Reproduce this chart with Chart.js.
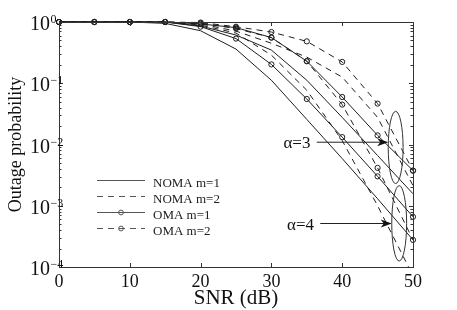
<!DOCTYPE html>
<html><head><meta charset="utf-8">
<script src="https://cdn.jsdelivr.net/npm/chart.js@4/dist/chart.umd.min.js"></script>
<style>html,body{margin:0;padding:0;background:#fff}canvas{display:block}</style>
</head><body>
<canvas id="c" width="457" height="310"></canvas>
<script>
// ---- data (SNR in dB, outage probability) ----
const snr      = [0, 5, 10, 15, 20, 25, 30, 35, 40, 45, 50];
const nomaM1a3 = [1, 1, 1, 1, 0.86, 0.612, 0.348, 0.112, 0.0277, 0.0066, 0.00157];
const nomaM2a3 = [1, 1, 1, 1, 0.93, 0.71, 0.45, 0.267, 0.126, 0.0277, 0.00213];
const omaM1a3  = [1, 1, 1, 1, 0.93, 0.81, 0.557, 0.229, 0.0596, 0.0141, 0.00375];
const omaM2a3  = [1, 1, 1, 1, 0.98, 0.837, 0.686, 0.483, 0.223, 0.0465, 0.00375];
const nomaM1a4 = [1, 1, 1, 0.95, 0.72, 0.361, 0.112, 0.0257, 0.0059, 0.0013, 0.000277];
const nomaM2a4 = [1, 1, 1, 1, 0.89, 0.66, 0.288, 0.0768, 0.0116, 0.001, 0.000072];
const omaM1a4  = [1, 1, 1, 1, 0.84, 0.536, 0.203, 0.0553, 0.0132, 0.00302, 0.00066];
const omaM2a4  = [1, 1, 1, 1, 0.96, 0.78, 0.557, 0.229, 0.0448, 0.00415, 0.000277];
const xTickLabels = [0, 10, 20, 30, 40, 50];
const yDecades = [0, -1, -2, -3, -4];
const legendLabels = ['NOMA m=1', 'NOMA m=2', 'OMA m=1', 'OMA m=2'];
const alphaLabels = ['\u03B1=3', '\u03B1=4'];

const serif = '"Liberation Serif", "Times New Roman", serif';
const ink = '#1e1e1e';
const DASH = [6, 5];

function ds(label, data, dashed, marker) {
  return {
    label, data: snr.map((x, i) => ({x, y: data[i]})),
    borderColor: ink, borderWidth: 1, borderDash: dashed ? DASH : [],
    pointRadius: marker ? 2.6 : 0, pointHoverRadius: 0, pointStyle: 'circle',
    pointBorderColor: ink, pointBackgroundColor: 'rgba(0,0,0,0)', pointBorderWidth: 1,
    tension: 0, fill: false, clip: {left: 6, top: 6, right: 6, bottom: 0}
  };
}

const deco = {
  id: 'deco',
  afterDraw(chart) {
    const {ctx, chartArea: a, scales: {x, y}} = chart;
    ctx.save();
    ctx.setLineDash([]);
    // frame
    ctx.strokeStyle = '#333'; ctx.lineWidth = 1;
    ctx.strokeRect(a.left + 0.5, a.top + 0.5, a.right - a.left, a.bottom - a.top);
    // x ticks (inward, bottom & top)
    ctx.beginPath();
    xTickLabels.forEach(v => {
      const px = Math.round(x.getPixelForValue(v)) + 0.5;
      ctx.moveTo(px, a.bottom); ctx.lineTo(px, a.bottom - 4);
      ctx.moveTo(px, a.top); ctx.lineTo(px, a.top + 4);
    });
    // y ticks (major + minor, left & right)
    yDecades.forEach(e => {
      for (let m = 1; m <= 9; m++) {
        const v = m * Math.pow(10, e);
        if (v > 1.0000001 || v < 0.9999e-4) continue;
        const py = Math.round(y.getPixelForValue(v)) + 0.5;
        const L = m === 1 ? 4 : 2.5;
        ctx.moveTo(a.left, py); ctx.lineTo(a.left + L, py);
        ctx.moveTo(a.right, py); ctx.lineTo(a.right - L, py);
      }
    });
    ctx.stroke();

    ctx.fillStyle = '#111';
    // x tick labels
    ctx.font = '18px ' + serif; ctx.textAlign = 'center'; ctx.textBaseline = 'alphabetic';
    xTickLabels.forEach(v => ctx.fillText(String(v), x.getPixelForValue(v), a.bottom + 20));
    // y tick labels 10^e
    yDecades.forEach(e => {
      const py = y.getPixelForValue(Math.pow(10, e));
      ctx.font = '20px ' + serif; ctx.textAlign = 'right';
      ctx.fillText('10', a.left - 9, py + 8);
      ctx.font = '12px ' + serif; ctx.textAlign = 'left';
      ctx.fillText(e === 0 ? '0' : '\u2212' + (-e), a.left - 8.5, py + 1);
    });
    // axis titles
    ctx.font = '21px ' + serif; ctx.textAlign = 'center';
    ctx.fillText('SNR (dB)', (a.left + a.right) / 2, a.bottom + 37);
    ctx.save();
    ctx.translate(21, (a.top + a.bottom) / 2);
    ctx.rotate(-Math.PI / 2);
    ctx.font = '18px ' + serif;
    ctx.fillText('Outage probability', 0, 0);
    ctx.restore();

    // legend
    const rows = [182, 198, 214, 230];
    const styles = [[false, false], [true, false], [false, true], [true, true]];
    legendLabels.forEach((t, i) => {
      const [dashed, marker] = styles[i];
      const ly = rows[i] - 1.5;
      ctx.strokeStyle = '#555'; ctx.lineWidth = 1;
      ctx.setLineDash(dashed ? DASH : []);
      ctx.beginPath(); ctx.moveTo(97, ly); ctx.lineTo(145, ly); ctx.stroke();
      ctx.setLineDash([]);
      if (marker) { ctx.beginPath(); ctx.arc(121, ly, 2.4, 0, 2 * Math.PI); ctx.stroke(); }
      ctx.fillStyle = '#222'; ctx.font = '13px ' + serif; ctx.textAlign = 'left';
      ctx.fillText(t, 153, rows[i] + 4.5);
    });

    // annotations (data coordinates)
    const notes = [
      {text: alphaLabels[0], tx: 31.7, ax0: 36.4, ax1: 46.5, ay: 0.0109, ex0: 46.5, ex1: 48.6, ey0: 0.0348, ey1: 0.0023},
      {text: alphaLabels[1], tx: 32.2, ax0: 36.9, ax1: 47.0, ay: 0.000513, ex0: 47.0, ex1: 49.1, ey0: 0.00213, ey1: 0.000125}
    ];
    notes.forEach(n => {
      const ay = y.getPixelForValue(n.ay);
      const x0 = x.getPixelForValue(n.ax0), x1 = x.getPixelForValue(n.ax1);
      ctx.fillStyle = '#111'; ctx.font = '17px ' + serif; ctx.textAlign = 'left';
      ctx.fillText(n.text, x.getPixelForValue(n.tx), ay + 6);
      ctx.strokeStyle = '#222'; ctx.lineWidth = 1;
      ctx.beginPath(); ctx.moveTo(x0, ay); ctx.lineTo(x1 - 6, ay); ctx.stroke();
      ctx.beginPath();
      ctx.moveTo(x1, ay); ctx.lineTo(x1 - 11, ay - 4); ctx.lineTo(x1 - 8, ay); ctx.lineTo(x1 - 11, ay + 4);
      ctx.closePath(); ctx.fillStyle = '#111'; ctx.fill();
      const ex0 = x.getPixelForValue(n.ex0), ex1 = x.getPixelForValue(n.ex1);
      const ey0 = y.getPixelForValue(n.ey0), ey1 = y.getPixelForValue(n.ey1);
      ctx.beginPath();
      ctx.ellipse((ex0 + ex1) / 2, (ey0 + ey1) / 2, (ex1 - ex0) / 2, (ey1 - ey0) / 2, 0, 0, 2 * Math.PI);
      ctx.strokeStyle = '#333'; ctx.stroke();
    });
    ctx.restore();
  }
};

new Chart(document.getElementById('c'), {
  type: 'line',
  data: {
    datasets: [
      ds('NOMA m=1, \u03B1=3', nomaM1a3, false, false),
      ds('NOMA m=2, \u03B1=3', nomaM2a3, true, false),
      ds('OMA m=1, \u03B1=3', omaM1a3, false, true),
      ds('OMA m=2, \u03B1=3', omaM2a3, true, true),
      ds('NOMA m=1, \u03B1=4', nomaM1a4, false, false),
      ds('NOMA m=2, \u03B1=4', nomaM2a4, true, false),
      ds('OMA m=1, \u03B1=4', omaM1a4, false, true),
      ds('OMA m=2, \u03B1=4', omaM2a4, true, true)
    ]
  },
  options: {
    responsive: false, animation: false, devicePixelRatio: 1,
    layout: {padding: {left: 59, top: 22, right: 44, bottom: 43}},
    plugins: {legend: {display: false}, tooltip: {enabled: false}},
    events: [],
    scales: {
      x: {type: 'linear', min: 0, max: 50, display: false},
      y: {type: 'logarithmic', min: 1e-4, max: 1, display: false}
    }
  },
  plugins: [deco]
});
</script>
</body></html>
